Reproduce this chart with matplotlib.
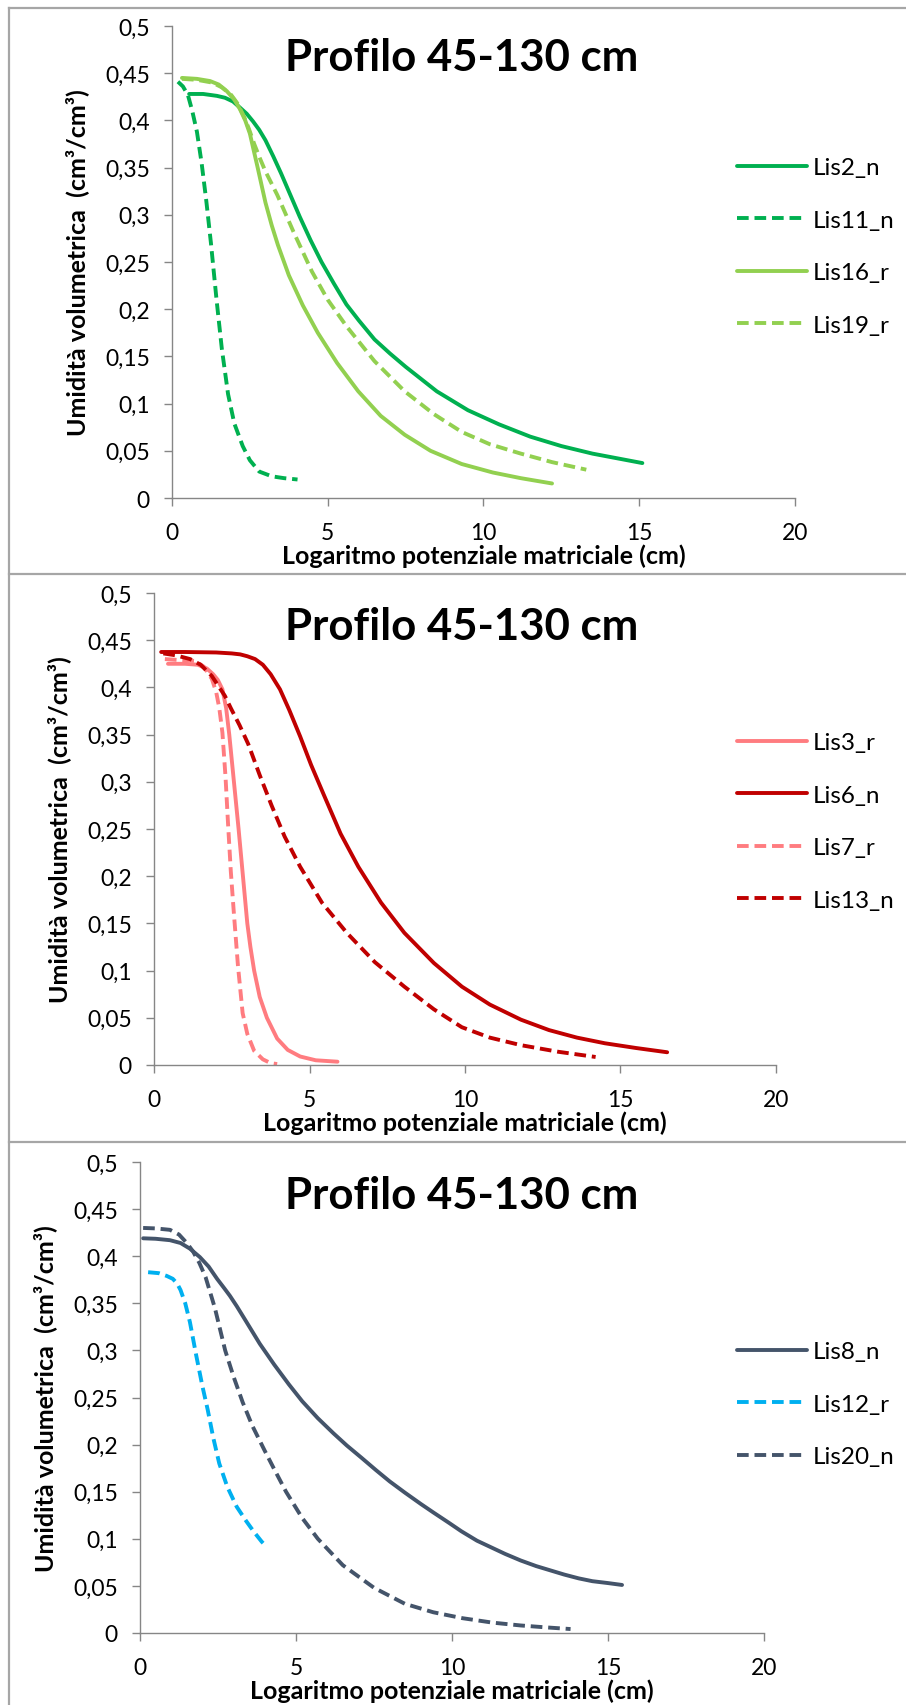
import matplotlib
matplotlib.use("Agg")
import matplotlib.pyplot as plt
from matplotlib.lines import Line2D
from matplotlib.ticker import FixedLocator, FixedFormatter

plt.rcParams['font.family'] = ['Lato', 'DejaVu Sans']

# ---------------- data ----------------
title = "Profilo 45-130 cm"
xlabel = "Logaritmo potenziale matriciale (cm)"
ylabel = "Umidità volumetrica  (cm³/cm³)"
xticks = [0, 5, 10, 15, 20]
yticks = [0, 0.05, 0.1, 0.15, 0.2, 0.25, 0.3, 0.35, 0.4, 0.45, 0.5]
ytick_labels = ["0", "0,05", "0,1", "0,15", "0,2", "0,25", "0,3", "0,35", "0,4", "0,45", "0,5"]
xtick_labels = ["0", "5", "10", "15", "20"]

# Panel 1
lis2_x = [0.55, 1.0, 1.44, 1.7, 1.96, 2.2, 2.4, 2.6, 2.8, 3.0, 3.25, 3.5, 3.8, 4.1, 4.45, 4.8, 5.2, 5.6, 6.0, 6.5, 7.0, 7.5, 8.0, 8.5, 9.0, 9.5, 10.5, 11.5, 12.5, 13.5, 14.3, 15.1]
lis2_y = [0.428, 0.428, 0.426, 0.424, 0.420, 0.413, 0.407, 0.399, 0.390, 0.379, 0.362, 0.344, 0.321, 0.298, 0.273, 0.250, 0.227, 0.205, 0.188, 0.168, 0.153, 0.139, 0.126, 0.113, 0.103, 0.093, 0.078, 0.065, 0.055, 0.047, 0.042, 0.037]
lis11_x = [0.19, 0.35, 0.51, 0.65, 0.8, 0.95, 1.1, 1.25, 1.43, 1.6, 1.8, 2.0, 2.27, 2.5, 2.8, 3.2, 3.6, 4.03]
lis11_y = [0.441, 0.436, 0.427, 0.410, 0.388, 0.355, 0.315, 0.270, 0.210, 0.158, 0.110, 0.079, 0.055, 0.040, 0.028, 0.023, 0.021, 0.0196]
lis16_x = [0.32, 0.8, 1.22, 1.5, 1.76, 2.0, 2.18, 2.35, 2.5, 2.75, 3.0, 3.2, 3.4, 3.75, 4.2, 4.68, 5.3, 5.98, 6.7, 7.47, 8.3, 9.3, 10.3, 11.2, 12.2]
lis16_y = [0.445, 0.444, 0.4417, 0.438, 0.431, 0.422, 0.412, 0.400, 0.386, 0.350, 0.313, 0.289, 0.268, 0.236, 0.204, 0.175, 0.143, 0.113, 0.087, 0.067, 0.050, 0.036, 0.027, 0.021, 0.0154]
lis19_x = [0.32, 0.8, 1.3, 1.6, 1.9, 2.1, 2.3, 2.47, 2.64, 2.82, 3.0, 3.38, 3.9, 4.49, 5.0, 5.6, 6.5, 7.47, 8.4, 9.3, 10.2, 11.2, 12.2, 13.3]
lis19_y = [0.444, 0.443, 0.440, 0.435, 0.427, 0.418, 0.405, 0.391, 0.375, 0.360, 0.346, 0.321, 0.282, 0.240, 0.210, 0.182, 0.145, 0.113, 0.089, 0.070, 0.057, 0.047, 0.038, 0.030]

# Panel 2
lis3_x = [0.45, 1.0, 1.41, 1.7, 1.9, 2.05, 2.2, 2.32, 2.42, 2.57, 2.72, 2.86, 3.0, 3.1, 3.22, 3.4, 3.63, 3.96, 4.3, 4.7, 5.2, 5.9]
lis3_y = [0.425, 0.425, 0.424, 0.420, 0.414, 0.408, 0.398, 0.378, 0.350, 0.300, 0.250, 0.200, 0.150, 0.125, 0.100, 0.072, 0.050, 0.028, 0.016, 0.009, 0.005, 0.0035]
lis6_x = [0.23, 1.0, 2.0, 2.5, 2.77, 3.0, 3.25, 3.5, 3.75, 4.05, 4.35, 4.7, 5.05, 5.45, 6.0, 6.57, 7.3, 8.05, 9.0, 9.9, 10.8, 11.8, 12.7, 13.6, 14.5, 15.5, 16.5]
lis6_y = [0.4375, 0.4375, 0.437, 0.436, 0.435, 0.433, 0.430, 0.424, 0.414, 0.398, 0.376, 0.348, 0.318, 0.287, 0.245, 0.210, 0.172, 0.140, 0.108, 0.083, 0.064, 0.048, 0.037, 0.029, 0.023, 0.018, 0.0135]
lis7_x = [0.35, 0.8, 1.32, 1.6, 1.86, 2.0, 2.1, 2.2, 2.3, 2.38, 2.47, 2.57, 2.7, 2.85, 3.0, 3.22, 3.5, 3.75, 3.96]
lis7_y = [0.430, 0.429, 0.428, 0.422, 0.409, 0.395, 0.378, 0.352, 0.305, 0.256, 0.205, 0.160, 0.105, 0.055, 0.033, 0.015, 0.006, 0.002, 0.001]
lis13_x = [0.3, 0.7, 1.16, 1.5, 1.86, 2.1, 2.28, 2.47, 2.75, 3.03, 3.4, 3.78, 4.2, 4.7, 5.4, 6.2, 7.1, 8.05, 9.0, 9.9, 10.8, 11.8, 13.0, 14.2]
lis13_y = [0.436, 0.434, 0.430, 0.424, 0.412, 0.400, 0.391, 0.378, 0.360, 0.340, 0.307, 0.275, 0.242, 0.210, 0.172, 0.140, 0.109, 0.083, 0.059, 0.040, 0.029, 0.021, 0.014, 0.0085]

# Panel 3
lis8_x = [0.1, 0.5, 0.96, 1.3, 1.6, 1.92, 2.2, 2.47, 2.7, 2.88, 3.1, 3.36, 3.6, 3.84, 4.3, 4.77, 5.2, 5.7, 6.2, 6.63, 7.1, 7.56, 8.0, 8.49, 9.0, 9.4, 9.9, 10.3, 10.8, 11.25, 11.7, 12.2, 12.7, 13.1, 13.6, 14.06, 14.5, 15.0, 15.45]
lis8_y = [0.419, 0.4185, 0.417, 0.414, 0.408, 0.399, 0.389, 0.376, 0.366, 0.358, 0.347, 0.333, 0.320, 0.307, 0.285, 0.264, 0.246, 0.228, 0.212, 0.199, 0.186, 0.173, 0.161, 0.149, 0.137, 0.128, 0.117, 0.108, 0.098, 0.091, 0.084, 0.077, 0.071, 0.067, 0.062, 0.058, 0.055, 0.053, 0.051]
lis12_x = [0.26, 0.6, 0.86, 1.05, 1.19, 1.3, 1.45, 1.6, 1.8, 2.0, 2.17, 2.35, 2.54, 2.8, 3.1, 3.4, 3.66, 3.9, 4.07]
lis12_y = [0.383, 0.382, 0.379, 0.376, 0.371, 0.364, 0.350, 0.330, 0.295, 0.262, 0.237, 0.207, 0.180, 0.155, 0.134, 0.119, 0.107, 0.097, 0.091]
lis20_x = [0.1, 0.5, 0.96, 1.25, 1.5, 1.7, 1.9, 2.1, 2.4, 2.73, 3.0, 3.29, 3.6, 3.99, 4.3, 4.68, 5.2, 5.7, 6.5, 7.5, 8.49, 9.4, 10.34, 11.3, 12.2, 13.0, 13.8]
lis20_y = [0.430, 0.4295, 0.428, 0.423, 0.414, 0.405, 0.393, 0.378, 0.345, 0.300, 0.272, 0.245, 0.220, 0.194, 0.174, 0.150, 0.122, 0.100, 0.072, 0.048, 0.031, 0.022, 0.0157, 0.011, 0.008, 0.006, 0.0042]

panel1 = [("Lis2_n", lis2_x, lis2_y, "#00B050", "-"),
          ("Lis11_n", lis11_x, lis11_y, "#00B050", "--"),
          ("Lis16_r", lis16_x, lis16_y, "#92D050", "-"),
          ("Lis19_r", lis19_x, lis19_y, "#92D050", "--")]
panel2 = [("Lis3_r", lis3_x, lis3_y, "#FF7C80", "-"),
          ("Lis6_n", lis6_x, lis6_y, "#C00000", "-"),
          ("Lis7_r", lis7_x, lis7_y, "#FF7C80", "--"),
          ("Lis13_n", lis13_x, lis13_y, "#C00000", "--")]
panel3 = [("Lis8_n", lis8_x, lis8_y, "#44546A", "-"),
          ("Lis12_r", lis12_x, lis12_y, "#00B0F0", "--"),
          ("Lis20_n", lis20_x, lis20_y, "#44546A", "--")]

# ---------------- layout (pixels) ----------------
W, H = 906, 1706
fig = plt.figure(figsize=(W / 100, H / 100), dpi=100)

# (series, left px, right px, y0 px, ytop px, title center y px, legend first row y px)
layouts = [
    (panel1, 172, 795, 499, 27, 58, 171),
    (panel2, 154, 776, 1066, 594, 627, 746),
    (panel3, 140, 764, 1634, 1163, 1196, 1355),
]

axis_col = "#868686"
for series, l, r, yb, yt, ty, ly in layouts:
    ax = fig.add_axes([l / W, 1 - yb / H, (r - l) / W, (yb - yt) / H])
    handles = []
    for name, xs, ys, col, ls in series:
        ln, = ax.plot(xs, ys, color=col, lw=2.8, label=name,
                      solid_capstyle='round', solid_joinstyle='round',
                      dash_capstyle='butt', dash_joinstyle='round')
        if ls == "--":
            ln.set_dashes([3.0, 1.5])
        handles.append(ln)
    ax.set_xlim(0, 20)
    ax.set_ylim(0, 0.5)
    ax.xaxis.set_major_locator(FixedLocator(xticks))
    ax.xaxis.set_major_formatter(FixedFormatter(xtick_labels))
    ax.yaxis.set_major_locator(FixedLocator(yticks))
    ax.yaxis.set_major_formatter(FixedFormatter(ytick_labels))
    for s in ("top", "right"):
        ax.spines[s].set_visible(False)
    for s in ("left", "bottom"):
        ax.spines[s].set_color(axis_col)
        ax.spines[s].set_linewidth(1.0)
    ax.tick_params(axis='x', direction='out', length=6, width=1.0, color=axis_col,
                   labelsize=16.5, pad=11, labelcolor='black')
    ax.tick_params(axis='y', direction='out', length=6, width=1.0, color=axis_col,
                   labelsize=16.5, pad=10, labelcolor='black')
    ax.set_xlabel(xlabel, fontsize=18, fontweight='bold')
    ax.xaxis.set_label_coords(0.5, -57 / (yb - yt))
    ax.xaxis.label.set_va('center')
    ax.set_ylabel(ylabel, fontsize=18, fontweight='bold')
    ax.yaxis.set_label_coords(-95 / (r - l), 0.5)
    ax.yaxis.label.set_va('center')
    fig.text(462 / W, 1 - ty / H, title, fontsize=31.5, fontweight='bold',
             ha='center', va='center')
    fig.legend(handles=handles, loc='upper left',
               bbox_to_anchor=(737 / W, 1 - (ly - 13) / H),
               frameon=False, fontsize=17.5, handlelength=2.9,
               handletextpad=0.2, labelspacing=1.3, borderpad=0,
               borderaxespad=0)

# panel borders
border_col = "#A6A6A6"
fig.add_artist(Line2D([9 / W, 9 / W], [0, 1 - 9 / H], color=border_col, lw=1.6))
for yy in (9, 575, 1143):
    fig.add_artist(Line2D([9 / W, 1], [1 - yy / H, 1 - yy / H], color=border_col, lw=1.6))

fig.savefig("out.png", dpi=100)
